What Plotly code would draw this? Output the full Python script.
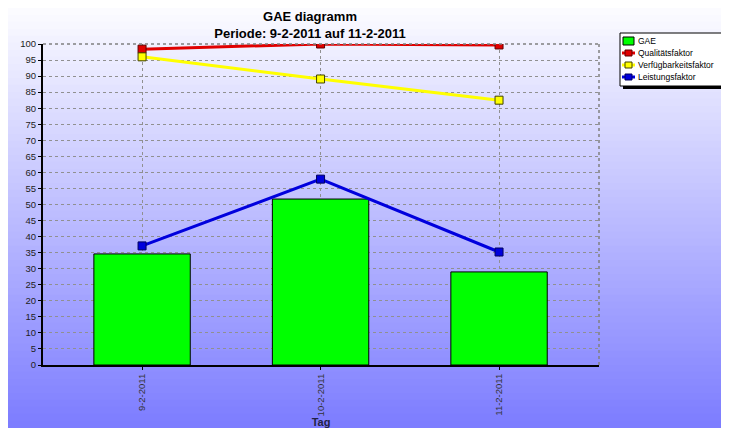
import plotly.graph_objects as go

categories = ["9-2-2011", "10-2-2011", "11-2-2011"]
gae = [34.6, 51.7, 29.0]
qualitaet = [98.4, 100.0, 99.7]
verfuegbarkeit = [96.0, 89.1, 82.5]
leistung = [37.1, 57.9, 35.2]
y_ticks = list(range(0, 101, 5))
series_names = ["GAE", "Qualitätsfaktor", "Verfügbarkeitsfaktor", "Leistungsfaktor"]
series_colors = ["#00ff00", "#e00000", "#ffff00", "#0000dd"]
marker_edges = ["#000000", "#600000", "#404000", "#000060"]

OFF = 8  # page body margin
W, H = 729 - OFF, 428 - OFF
L, R, T, B = 43 - OFF, 599 - OFF, 44 - OFF, 365 - OFF
ph = B - T
pw = R - L


def xp(px):
    return (px - OFF - L) / pw


def yp(py):
    return (B - (py - OFF)) / ph


fig = go.Figure()

fig.add_trace(go.Bar(
    x=categories, y=gae, name=series_names[0], width=0.54,
    marker=dict(color=series_colors[0], line=dict(color="#000000", width=1)),
))
for name, vals, col, edge in zip(series_names[1:], [qualitaet, verfuegbarkeit, leistung],
                                 series_colors[1:], marker_edges[1:]):
    fig.add_trace(go.Scatter(
        x=categories, y=vals, name=name, mode="lines+markers",
        line=dict(color=col, width=3),
        marker=dict(symbol="square", size=8, color=col, line=dict(color=edge, width=1)),
    ))

# gradient background via horizontal strips (reference page pixels)
shapes = []
annotations = []
n = 60
top_c = (252, 252, 255)
bot_c = (124, 124, 255)
for i in range(n):
    p0 = OFF + (428 - OFF) * i / n
    p1 = OFF + (428 - OFF) * (i + 1) / n
    t = (i + 0.5) / n
    c = tuple(int(round(top_c[k] + (bot_c[k] - top_c[k]) * t)) for k in range(3))
    shapes.append(dict(
        type="rect", xref="paper", yref="paper", layer="below",
        x0=xp(OFF), x1=xp(729), y0=yp(p1), y1=yp(p0) + 0.001,
        fillcolor="rgb(%d,%d,%d)" % c, line=dict(width=0),
    ))
# plot border (top/right dashed grey)
shapes.append(dict(type="line", xref="paper", yref="paper", x0=0, x1=1, y0=1, y1=1,
                   line=dict(color="#808080", width=1.5, dash="dot"), layer="above"))
shapes.append(dict(type="line", xref="paper", yref="paper", x0=1, x1=1, y0=0, y1=1,
                   line=dict(color="#808080", width=1.5, dash="dot"), layer="above"))

# manual legend box with shadow
lx0, ly0, lx1, ly1 = 620, 33, 722, 86
shapes.append(dict(type="rect", xref="paper", yref="paper",
                   x0=xp(lx0 + 3), x1=xp(lx1 + 3), y0=yp(ly1 + 3), y1=yp(ly0 + 3),
                   fillcolor="#000000", line=dict(width=0), layer="above"))
shapes.append(dict(type="rect", xref="paper", yref="paper",
                   x0=xp(lx0), x1=xp(lx1), y0=yp(ly1), y1=yp(ly0),
                   fillcolor="#ffffff", line=dict(color="#000000", width=1), layer="above"))
row_y = [41, 53, 65, 77]
for i, (name, col, edge) in enumerate(zip(series_names, series_colors, marker_edges)):
    cy = row_y[i]
    if i == 0:
        shapes.append(dict(type="rect", xref="paper", yref="paper",
                           x0=xp(623), x1=xp(634), y0=yp(cy + 4), y1=yp(cy - 4),
                           fillcolor=col, line=dict(color="#000000", width=1), layer="above"))
    else:
        shapes.append(dict(type="line", xref="paper", yref="paper",
                           x0=xp(622), x1=xp(635), y0=yp(cy), y1=yp(cy),
                           line=dict(color=col, width=3), layer="above"))
        shapes.append(dict(type="rect", xref="paper", yref="paper",
                           x0=xp(625), x1=xp(632), y0=yp(cy + 3), y1=yp(cy - 3),
                           fillcolor=col, line=dict(color=edge, width=1), layer="above"))
    annotations.append(dict(
        text=name, xref="paper", yref="paper", x=xp(636), y=yp(cy),
        xanchor="left", yanchor="middle", showarrow=False,
        font=dict(size=8.5, color="#000000"),
    ))

fig.update_layout(
    width=W, height=H,
    margin=dict(l=L, r=W - R, t=T, b=H - B, autoexpand=False),
    paper_bgcolor="#ffffff",
    plot_bgcolor="rgba(0,0,0,0)",
    font=dict(family="Arial, Liberation Sans, sans-serif", size=9, color="#222222"),
    title=dict(
        text="<b>GAE diagramm</b><br><b>Periode: 9-2-2011 auf 11-2-2011</b>",
        x=(310 - OFF) / W, xanchor="center", y=1 - (21 - OFF) / H, yanchor="middle",
        font=dict(size=13, color="#000000"),
    ),
    showlegend=False,
    bargap=0.46,
    shapes=shapes,
    annotations=annotations,
    xaxis=dict(
        type="category", range=[-0.555, 2.56],
        tickangle=-90, tickfont=dict(size=9.5, color="#333333"),
        showgrid=True, gridcolor="#909090", griddash="dot", gridwidth=1,
        showline=True, linecolor="#000000", linewidth=2,
        ticks="outside", ticklen=3, tickcolor="#000000",
        title=dict(text="<b>Tag</b>", font=dict(size=11, color="#222244"), standoff=3),
        zeroline=False, automargin=False,
    ),
    yaxis=dict(
        range=[0, 100], tickvals=y_ticks, ticktext=[str(v) for v in y_ticks],
        tickfont=dict(size=9.5, color="#222222"),
        showgrid=True, gridcolor="#909090", griddash="dot", gridwidth=1,
        showline=True, linecolor="#000000", linewidth=2,
        ticks="outside", ticklen=3, tickcolor="#000000",
        zeroline=False, automargin=False,
    ),
)

fig.write_html("out.html")
